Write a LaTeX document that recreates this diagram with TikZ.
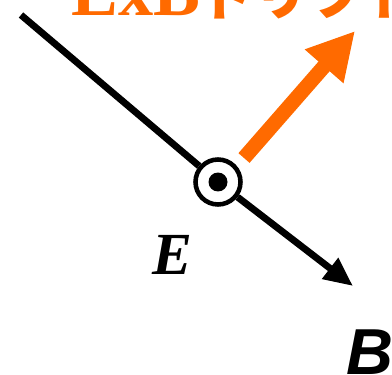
\documentclass[tikz,border=0pt]{standalone}
\usepackage{fontspec}
\setmainfont{Liberation Serif}
\newfontfamily\cjk{Noto Sans CJK JP}
\newfontfamily\sansB{Liberation Sans}
\usepackage{xcolor}
\definecolor{driftorange}{HTML}{FF6A00}
\usetikzlibrary{arrows.meta}

\begin{document}
\begin{tikzpicture}[x=0.02cm, y=-0.02cm,
    field/.style={line width=3.9pt, black},
    drift/.style={line width=8.4pt, driftorange}]
    \useasboundingbox (0,0) rectangle (392,375);
    \clip (0,0) rectangle (392,375);
    % Title (cut by the frame)
    \node[anchor=base west, inner sep=0pt, text=driftorange, font=\fontsize{40}{44}\selectfont\bfseries] (title) at (71,16) {ExB{\cjk\fontsize{31}{34}\selectfont ドリフト}};
    % Out-of-plane field marker
    \node[draw, circle, line width=2.6pt, fill=white, inner sep=0pt, minimum size=0.9cm] (ez) at (218,182) {};
    \fill (ez.center) circle (0.19cm);
    % Field line
    \coordinate (bstart) at (21,15);
    \coordinate (btip) at (353,286);
    \draw[field] (bstart) -- (ez);
    \draw[field, -{Triangle[length=0.58cm, width=0.5cm]}] (ez) -- (btip);
    % Drift arrow
    \coordinate (dstart) at (244,158);
    \coordinate (dtip) at (355,31);
    \draw[drift, -{Triangle[length=0.94cm, width=0.96cm]}] (dstart) -- (dtip);
    % Labels
    \node[font=\fontsize{34}{36}\selectfont\bfseries\itshape] (elabel) at (172,255) {E};
    \node[font=\fontsize{37}{40}\selectfont\sansB\bfseries\itshape] (blabel) at (370,352) {B};
\end{tikzpicture}
\end{document}
